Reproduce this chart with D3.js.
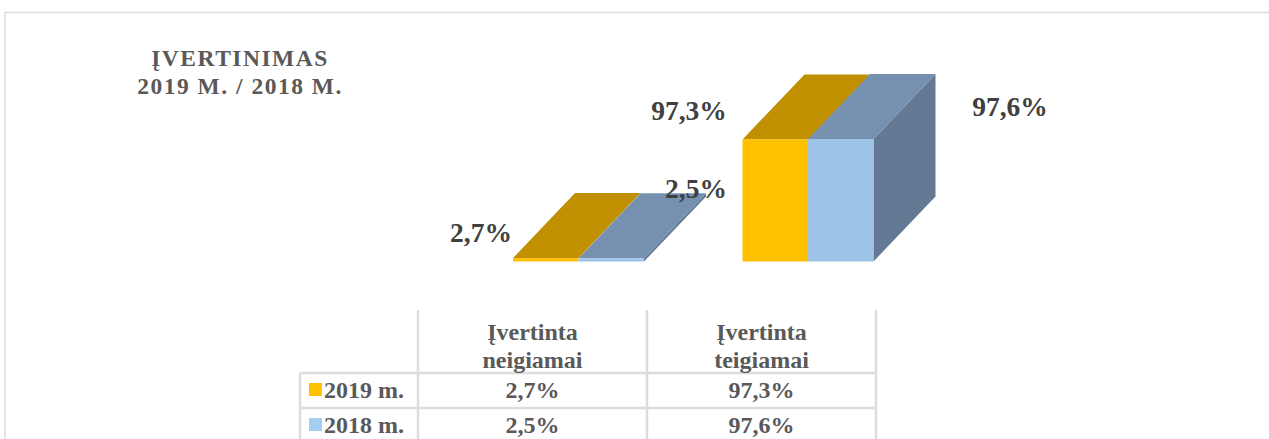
<!DOCTYPE html>
<html><head><meta charset="utf-8">
<script src="https://cdnjs.cloudflare.com/ajax/libs/d3/7.8.5/d3.min.js"></script>
<style>html,body{margin:0;padding:0;background:#fff;overflow:hidden}svg{display:block}text{font-family:"Liberation Serif",serif;font-weight:bold}</style>
</head><body><svg id="c" width="1269" height="439"></svg>
<script>
const categories = ["Įvertinta neigiamai", "Įvertinta teigiamai"];
const categoryLines = [["Įvertinta", "neigiamai"], ["Įvertinta", "teigiamai"]];
const seriesNames = ["2019 m.", "2018 m."];
const values2019 = [2.7, 97.3];
const values2018 = [2.5, 97.6];
const dataLabels2019 = ["2,7%", "97,3%"];
const dataLabels2018 = ["2,5%", "97,6%"];
const titleLines = ["ĮVERTINIMAS", "2019 M. / 2018 M."];
const frontColors = ["#FFC000", "#9DC3E6"];
const topColors = ["#C09000", "#7690B0"];
const sideColors = ["#A07800", "#647A94"];
const swatchColors = ["#FFC000", "#A6CEF2"];

const svg = d3.select("#c");
const series = [values2019, values2018];
const labels = [dataLabels2019, dataLabels2018];
const dx = 62, dy = 65;

// frame
svg.append("path").attr("d","M5 439V12.5H1269").attr("fill","none").attr("stroke","#DCDCDC").attr("stroke-width",1.5);

// title
svg.append("g").selectAll("text").data(titleLines).join("text")
  .attr("x",240).attr("y",(d,i)=>66+i*28).attr("text-anchor","middle")
  .attr("font-size",23.5).attr("letter-spacing",1.5).attr("fill","#595959").text(d=>d);

// table columns define the category band
const x = d3.scaleBand().domain(categories).range([418,876]);
const xBars = d3.scaleBand().domain(categories).range([513,972]);
const y = d3.scaleLinear().domain([0,100]).range([261.5,136]);
const barW = 65.5;
const barX = (ci,si)=> xBars(categories[ci]) + si*barW;

const bars = [];
categories.forEach((c,ci)=>series.forEach((s,si)=>bars.push({ci,si,v:s[ci]})));
const g = svg.append("g");
const draw = g.selectAll("g").data(bars).join("g");
draw.filter(d=>d.si===1).append("path").attr("fill",d=>sideColors[d.si]).attr("d",d=>{
  const r=barX(d.ci,d.si)+barW, t=y(d.v), b=y(0);
  return `M${r} ${t}L${r+dx} ${t-dy}V${b-dy}L${r} ${b}Z`;});
draw.append("path").attr("fill",d=>topColors[d.si]).attr("d",d=>{
  const l=barX(d.ci,d.si), t=y(d.v);
  return `M${l} ${t}L${l+dx} ${t-dy}H${l+dx+barW}L${l+barW} ${t}Z`;});
draw.append("rect").attr("fill",d=>frontColors[d.si])
  .attr("x",d=>barX(d.ci,d.si)).attr("y",d=>y(d.v)).attr("width",barW).attr("height",d=>y(0)-y(d.v));

// data labels
const labelPos = [[[481,242],[696,198]],[[689,120],[1010,116]]];
const labelData = [];
categories.forEach((c,ci)=>series.forEach((s,si)=>labelData.push({t:labels[si][ci],p:labelPos[ci][si]})));
svg.append("g").selectAll("text").data(labelData).join("text")
  .attr("x",d=>d.p[0]).attr("y",d=>d.p[1]).attr("text-anchor","middle")
  .attr("font-size",27.5).attr("fill","#404040").text(d=>d.t);

// data table
const grid = svg.append("g").attr("stroke","#DCDCDC").attr("stroke-width",2.5);
[418,647,876].forEach(v=>grid.append("line").attr("x1",v).attr("x2",v).attr("y1",310).attr("y2",439));
grid.append("line").attr("x1",300).attr("x2",300).attr("y1",373).attr("y2",439);
[373,408].forEach(v=>grid.append("line").attr("x1",300).attr("x2",876).attr("y1",v).attr("y2",v));

const tbl = svg.append("g");
categories.forEach((c,ci)=>{
  categoryLines[ci].forEach((l,li)=>tbl.append("text").attr("x",x(c)+x.bandwidth()/2).attr("y",340+li*28)
    .attr("text-anchor","middle").attr("font-size",24).attr("fill","#595959").text(l));
  series.forEach((s,si)=>tbl.append("text").attr("x",x(c)+x.bandwidth()/2).attr("y",398+si*35)
    .attr("text-anchor","middle").attr("font-size",24).attr("fill","#595959").text(labels[si][ci]));
});
seriesNames.forEach((n,si)=>{
  svg.append("rect").attr("x",309).attr("y",383+si*35).attr("width",13).attr("height",13).attr("fill",swatchColors[si]);
  svg.append("text").attr("x",324).attr("y",398+si*35).attr("font-size",24).attr("fill","#595959").text(n);
});
</script></body></html>
